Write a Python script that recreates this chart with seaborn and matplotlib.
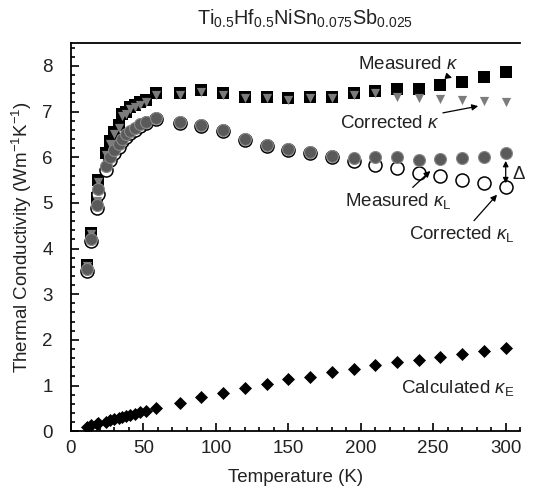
import matplotlib
matplotlib.use("Agg")
import matplotlib.pyplot as plt
from matplotlib.ticker import MultipleLocator
import seaborn as sns

# temperatures (K)
temp = [11, 14, 18, 19, 24, 27, 30, 33, 35, 38, 41, 44, 48, 52, 59,
        75, 90, 105, 120, 135, 150, 165, 180, 195, 210, 225, 240, 255, 270, 285, 300]

# thermal conductivity values (W m^-1 K^-1)
kappa_meas = [3.65, 4.35, 5.1, 5.5, 6.1, 6.35, 6.55, 6.7, 6.95, 7.0, 7.1, 7.15, 7.2, 7.25, 7.41,
              7.41, 7.48, 7.41, 7.33, 7.33, 7.3, 7.33, 7.33, 7.4, 7.46, 7.5, 7.5, 7.59, 7.65, 7.76, 7.87]
kappa_corr = [3.61, 4.31, 5.05, 5.45, 6.05, 6.3, 6.5, 6.65, 6.9, 6.95, 7.05, 7.1, 7.15, 7.2, 7.37,
              7.37, 7.44, 7.37, 7.29, 7.29, 7.26, 7.29, 7.29, 7.36, 7.4, 7.32, 7.3, 7.28, 7.26, 7.24, 7.21]
kappaL_meas = [3.55, 4.22, 4.95, 5.3, 5.8, 6.0, 6.15, 6.28, 6.4, 6.5, 6.58, 6.65, 6.72, 6.78, 6.86,
               6.78, 6.71, 6.6, 6.4, 6.27, 6.18, 6.12, 6.03, 5.98, 6.0, 6.0, 5.94, 5.96, 5.98, 6.0, 6.09]
kappaL_corr = [3.5, 4.17, 4.88, 5.2, 5.72, 5.93, 6.1, 6.22, 6.35, 6.45, 6.53, 6.6, 6.68, 6.74, 6.83,
               6.75, 6.68, 6.57, 6.37, 6.24, 6.15, 6.09, 6.0, 5.92, 5.83, 5.77, 5.66, 5.59, 5.5, 5.44, 5.35]
kappaE_calc = [0.1, 0.13, 0.16, 0.17, 0.21, 0.24, 0.26, 0.29, 0.31, 0.33, 0.36, 0.38, 0.41, 0.44, 0.5,
               0.62, 0.74, 0.83, 0.94, 1.03, 1.14, 1.19, 1.3, 1.36, 1.45, 1.51, 1.56, 1.63, 1.7, 1.75, 1.82]

sns.set_style("ticks")
plt.rcParams['font.family'] = ['Liberation Sans', 'DejaVu Sans']
plt.rcParams['mathtext.fontset'] = 'custom'
plt.rcParams['mathtext.rm'] = 'Liberation Sans'
plt.rcParams['mathtext.it'] = 'Liberation Sans:italic'
plt.rcParams['font.size'] = 13.5
txt = '#222222'

fig = plt.figure(figsize=(5.33, 4.9), dpi=100)
ax = fig.add_axes([0.133, 0.12, 0.843, 0.792])

sns.scatterplot(x=temp, y=kappa_meas, marker='s', s=72, color='black', linewidth=0, ax=ax, zorder=3)
sns.scatterplot(x=temp, y=kappa_corr, marker='v', s=44, color='#7c7c7c', linewidth=0, ax=ax, zorder=4)
sns.scatterplot(x=temp, y=kappaL_corr, marker='o', s=88, facecolor='white', edgecolor='black',
                linewidth=1.1, ax=ax, zorder=3)
sns.scatterplot(x=temp, y=kappaL_meas, marker='o', s=74, color='#5a5a5a', edgecolor='#888888',
                linewidth=0.8, ax=ax, zorder=4)
sns.scatterplot(x=temp, y=kappaE_calc, marker='D', s=44, color='black', linewidth=0, ax=ax, zorder=3)

ax.set_xlim(0, 310)
ax.set_ylim(0, 8.5)
ax.xaxis.set_major_locator(MultipleLocator(50))
ax.xaxis.set_minor_locator(MultipleLocator(10))
ax.yaxis.set_major_locator(MultipleLocator(1))
ax.yaxis.set_minor_locator(MultipleLocator(0.2))
ax.tick_params(which='both', direction='in', top=False, right=False, width=1.2,
               color='black', labelcolor=txt)
ax.tick_params(which='major', length=6)
ax.tick_params(which='minor', length=3)
ax.tick_params(axis='x', pad=6)
ax.tick_params(axis='y', pad=13)
ax.spines['right'].set_visible(False)
for side in ['left', 'bottom', 'top']:
    ax.spines[side].set_linewidth(1.3)
    ax.spines[side].set_color('black')

ax.set_xlabel('Temperature (K)', labelpad=9, color=txt)
ax.set_ylabel(r'Thermal Conductivity (Wm$^{-1}$K$^{-1}$)', labelpad=6, color=txt)
ax.text(0.52, 1.035, r'Ti$_{0.5}$Hf$_{0.5}$NiSn$_{0.075}$Sb$_{0.025}$', transform=ax.transAxes,
        ha='center', va='bottom', fontsize=14.3, color=txt)

arrow = dict(arrowstyle='-|>', color='black', lw=0.9, mutation_scale=9, shrinkA=0, shrinkB=0)
ax.annotate(r'Measured $\kappa$', xy=(263, 7.74), xytext=(233, 8.03), color=txt,
            ha='center', va='center', arrowprops=arrow)
ax.annotate(r'Corrected $\kappa$', xy=(281, 7.12), xytext=(220, 6.75), color=txt,
            ha='center', va='center', arrowprops=arrow)
ax.annotate(r'Measured $\kappa_\mathrm{L}$', xy=(248, 5.7), xytext=(226, 5.05), color=txt,
            ha='center', va='center', arrowprops=arrow)
ax.annotate(r'Corrected $\kappa_\mathrm{L}$', xy=(294, 5.18), xytext=(270, 4.32), color=txt,
            ha='center', va='center', arrowprops=arrow)
ax.annotate('', xy=(300, 5.92), xytext=(300, 5.43),
            arrowprops=dict(arrowstyle='<|-|>', color='black', lw=0.9, mutation_scale=8,
                            shrinkA=0, shrinkB=0))
ax.text(305, 5.62, 'Δ', ha='left', va='center', color=txt)
ax.text(267, 0.95, r'Calculated $\kappa_\mathrm{E}$', ha='center', va='center', color=txt)

fig.savefig('out.png', dpi=100)
